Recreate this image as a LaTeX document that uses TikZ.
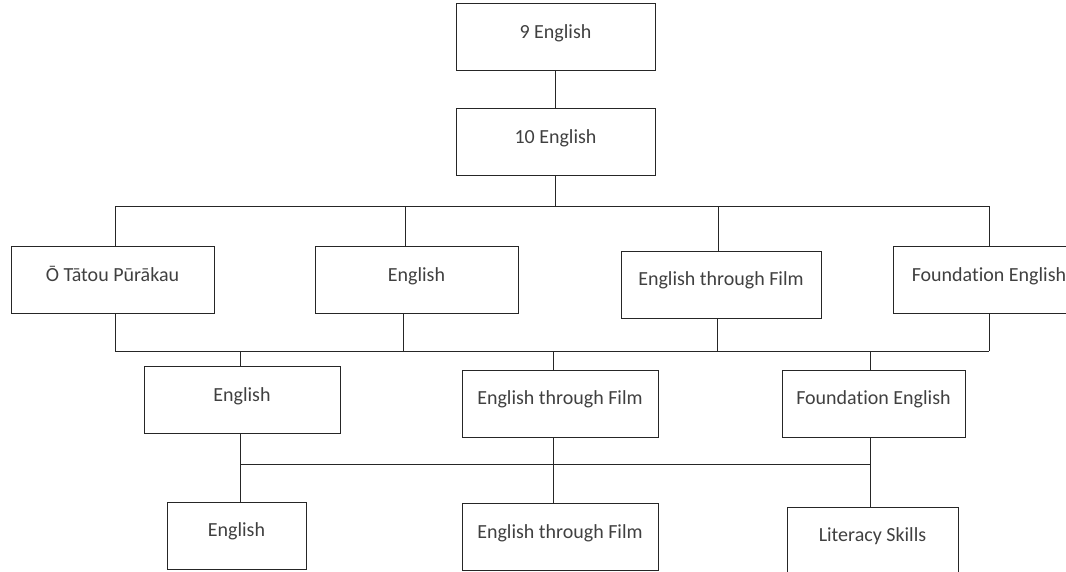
\documentclass[tikz,border=0pt]{standalone}
\usepackage{fontspec}
\setmainfont[Ligatures=NoCommon]{Carlito}
\usetikzlibrary{positioning}

\begin{document}
\begin{tikzpicture}[
    x=1pt, y=-1pt,
    course/.style={rectangle, draw=black!85, line width=0.9pt, minimum height=67pt,
                   inner sep=0pt, text height=14pt, text depth=12pt,
                   font=\fontsize{20}{24}\selectfont, text=black!75},
    link/.style={draw=black!85, line width=0.9pt},
]
\useasboundingbox (0,0) rectangle (1066,571);
\clip (0,0) rectangle (1066,571);

% Year 9 and 10
\node[course, minimum width=199pt] (nine) at (555.5,37) {9 English};
\node[course, minimum width=199pt] (ten) at (555.5,142) {10 English};

% Year 11
\node[course, minimum width=203pt] (ota) at (112.5,280) {Ō Tātou Pūrākau};
\node[course, minimum width=203pt] (eng) at (416.5,280) {English};
\node[course, minimum width=200pt] (etf) at (721,284.5) {English through Film};
\node[course, minimum width=192pt] (fnd) at (989,280) {Foundation English};

% Year 12
\node[course, minimum width=196pt] (engB) at (242,400) {English};
\node[course, minimum width=196pt] (etfB) at (560,403.5) {English through Film};
\node[course, minimum width=183pt] (fndB) at (873.5,403.5) {Foundation English};

% Year 13
\node[course, minimum width=139pt] (engC) at (236.5,535.5) {English};
\node[course, minimum width=196pt] (etfC) at (560,537) {English through Film};
\node[course, minimum width=171pt] (litC) at (872.5,540.5) {Literacy Skills};

% Junctions
\coordinate (up1) at (115,206);
\coordinate (up2) at (405,206);
\coordinate (up3) at (718,206);
\coordinate (up4) at (989,206);
\coordinate (lo1) at (115,351);
\coordinate (lo2) at (403,351);
\coordinate (lo3) at (717,351);
\coordinate (lo4) at (989,351);
\coordinate (md1) at (240,351);
\coordinate (md2) at (553,351);
\coordinate (md3) at (870,351);
\coordinate (bt1) at (240,464);
\coordinate (bt2) at (553,464);
\coordinate (bt3) at (870,464);

% Connectors
\draw[link] (nine) -- (ten);
\draw[link] (ten) -- (ten |- up1);
\draw[link] (up1) -- (up4);
\foreach \c/\n in {up1/ota, up2/eng, up3/etf, up4/fnd}
  \draw[link] (\c) -- (\c |- \n.north);
\foreach \c/\n in {lo1/ota, lo2/eng, lo3/etf, lo4/fnd}
  \draw[link] (\c) -- (\c |- \n.south);
\draw[link] (lo1) -- (lo4);
\foreach \c/\n in {md1/engB, md2/etfB, md3/fndB}
  \draw[link] (\c) -- (\c |- \n.north);
\foreach \c/\n in {bt1/engB, bt2/etfB, bt3/fndB}
  \draw[link] (\c) -- (\c |- \n.south);
\draw[link] (bt1) -- (bt3);
\foreach \c/\n in {bt1/engC, bt2/etfC, bt3/litC}
  \draw[link] (\c) -- (\c |- \n.north);

\end{tikzpicture}
\end{document}
